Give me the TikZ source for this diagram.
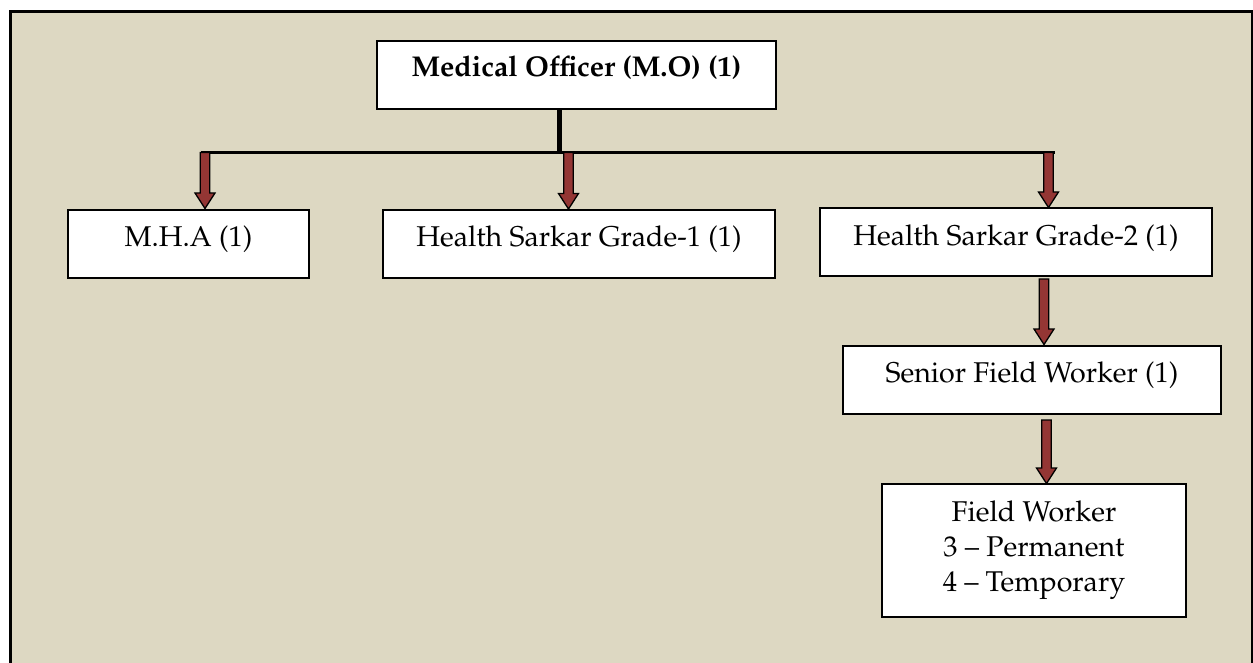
\documentclass[tikz,border=0pt]{standalone}
\usepackage[T1]{fontenc}
\renewcommand{\rmdefault}{ppl}
\usetikzlibrary{calc}
\definecolor{bgbeige}{RGB}{221,216,194}
\definecolor{arrowred}{RGB}{148,54,52}
\tikzset{
  box/.style={draw=black, line width=1.5pt, fill=white, rectangle, inner sep=0pt},
  lbl/.style={anchor=base, inner sep=0pt, font=\fontsize{28.6}{35}\selectfont},
  conn/.style={draw=black, line width=3.3pt},
  blockarrow/.style={fill=arrowred, draw=black, line width=1.3pt, line join=miter}
}
\newcommand{\barrow}[3]{%
  \filldraw[blockarrow] ({#1-4.7},#2) -- ({#1+4.7},#2) -- ({#1+4.7},{#3-15.5}) -- ({#1+10},{#3-15.5}) -- (#1,#3) -- ({#1-10},{#3-15.5}) -- ({#1-4.7},{#3-15.5}) -- cycle;}
\begin{document}
\begin{tikzpicture}[x=1pt,y=-1pt]
\useasboundingbox (0,0) rectangle (1253,663);
\begin{scope}
\clip (0,0) rectangle (1253,663);
\draw[fill=bgbeige, line width=3pt] (10.5,11.5) rectangle (1252.5,700);
\end{scope}
% boxes
\node[box, minimum width=399pt, minimum height=68pt] (mo) at (576.5,75) {};
\node[box, minimum width=241pt, minimum height=68pt] (mha) at (188.5,244) {};
\node[box, minimum width=392pt, minimum height=68pt] (hs1) at (579,244) {};
\node[box, minimum width=392pt, minimum height=68pt] (hs2) at (1016,242) {};
\node[box, minimum width=378pt, minimum height=68pt] (sfw) at (1032,380) {};
\node[box, minimum width=304pt, minimum height=133pt] (fw) at (1034,550.5) {};
% labels
\node[lbl, font=\fontsize{28.6}{35}\selectfont\bfseries] (mot) at ([yshift=-36pt]mo.north) {Medical Officer (M.O) (1)};
\node[lbl] (mhat) at ([yshift=-37pt]mha.north) {M.H.A (1)};
\node[lbl] (hs1t) at ([yshift=-37pt]hs1.north) {Health Sarkar Grade-1 (1)};
\node[lbl] (hs2t) at ([yshift=-38pt]hs2.north) {Health Sarkar Grade-2 (1)};
\node[lbl] (sfwt) at ([yshift=-37pt]sfw.north) {Senior Field Worker (1)};
\node[lbl] (fwt1) at ([yshift=-38pt]fw.north) {Field Worker};
\node[lbl] (fwt2) at ([yshift=-73pt]fw.north) {3 -- Permanent};
\node[lbl] (fwt3) at ([yshift=-108pt]fw.north) {4 -- Temporary};
% connector lines
\coordinate (hl) at (201,152.5);
\coordinate (hr) at (1055,152.5);
\coordinate (vb) at (559.5,152.5);
\draw[conn, line width=5pt] (vb |- mo.south) -- (vb);
\draw[conn] (hl) -- (hr);
% block arrows
\barrow{205}{152.5}{208.5}
\barrow{568.5}{152.5}{209}
\barrow{1048.5}{152.5}{207.5}
\barrow{1044}{279}{344.5}
\barrow{1046.5}{420}{483.5}
\end{tikzpicture}
\end{document}
